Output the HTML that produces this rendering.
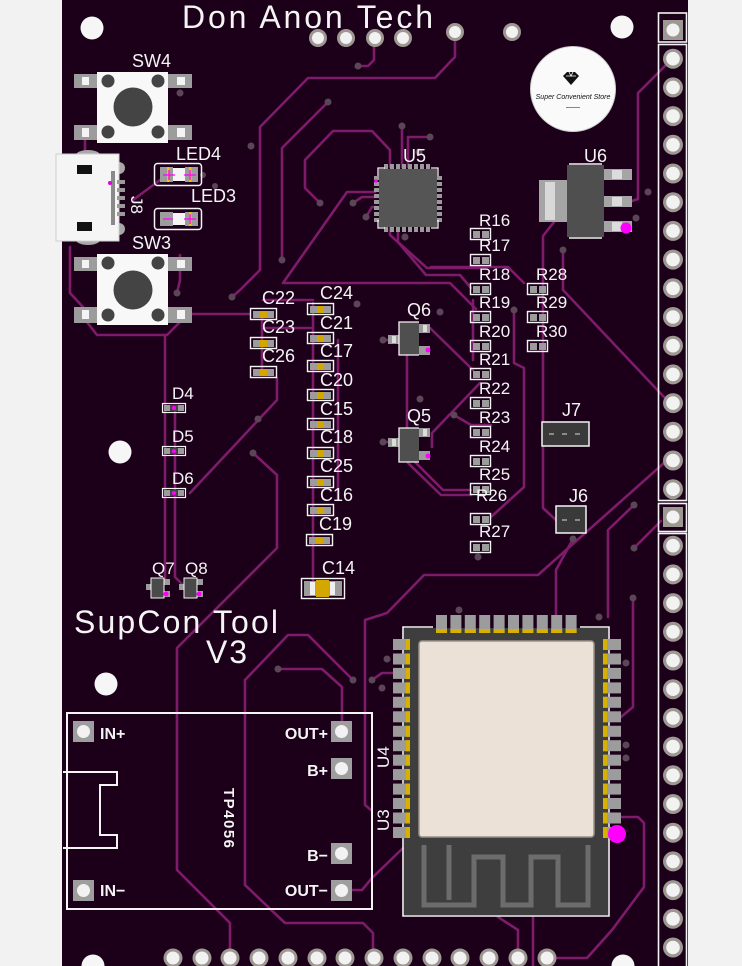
<!DOCTYPE html>
<html><head><meta charset="utf-8"><style>
html,body{margin:0;padding:0;background:#f2f2f2;}
svg{display:block;}
text{font-family:"Liberation Sans",sans-serif;fill:#f4f4f4;}
</style></head><body>
<svg width="742" height="966" viewBox="0 0 742 966" xmlns="http://www.w3.org/2000/svg">
<rect x="0" y="0" width="742" height="966" fill="#f2f2f2"/>
<rect x="62" y="0" width="626" height="966" fill="#1c0019"/>

<!-- traces -->
<g fill="none" stroke="#7e1b6b" stroke-width="2.6" stroke-linejoin="round" stroke-linecap="round">
<polyline points="452,60 435,78 308,78 260,127 260,270 240,290 232,297"/>
<polyline points="455,33 455,57 452,60"/>
<polyline points="328,102 282,148 282,260"/>
<polyline points="320,203 305,188 305,160 333,131 372,131 390,150 390,167"/>
<polyline points="374,38 374,60 368,66 358,66"/>
<polyline points="375,192 347,192 283,283 450,283 476,309"/>
<polyline points="390,228 390,235 427,268 480,268"/>
<polyline points="398,228 398,242 426,275 460,275 471,288"/>
<polyline points="431,267 508,267 524,283"/>
<polyline points="402,126 402,167"/>
<polyline points="430,137 408,137 408,167"/>
<polyline points="353,203 362,197 377,197"/>
<polyline points="366,217 372,207 377,207"/>
<polyline points="673,58 638,93 638,199 632,201"/>
<polyline points="554,222 543,236 543,508 556,520"/>
<polyline points="563,250 563,290 664,397"/>
<polyline points="664,463 538,575 424,575 387,613 365,620 365,805 371,810"/>
<polyline points="634,505 608,530 608,617"/>
<polyline points="573,539 556,570 556,615"/>
<polyline points="634,548 661,521"/>
<polyline points="621,817 638,817 644,823 644,887 612,930 587,958 553,958"/>
<polyline points="621,717 633,707 633,598"/>
<polyline points="352,890 362,890 372,878 403,848"/>
<polyline points="498,917 518,930 518,952"/>
<polyline points="533,917 533,966"/>
<polyline points="253,453 277,475 277,548 177,648 177,870 230,923 230,952"/>
<polyline points="245,680 288,635 308,635 353,680"/>
<polyline points="245,680 245,885 285,923 363,923 373,933 373,952"/>
<polyline points="278,669 322,669 342,687 342,723"/>
<polyline points="190,493 277,400 277,378"/>
<polyline points="83,317 97,335 167,335 182,320"/>
<polyline points="165,335 165,580"/>
<polyline points="175,412 175,577 183,585"/>
<polyline points="192,314 250,314"/>
<polyline points="263,300 313,300"/>
<polyline points="263,328 313,328"/>
<polyline points="262,314 262,372"/>
<polyline points="313,303 313,590"/>
<polyline points="338,340 338,500"/>
<polyline points="430,328 473,370"/>
<polyline points="432,447 432,433 480,383"/>
<polyline points="407,356 407,428"/>
<polyline points="408,463 441,495 471,495"/>
<polyline points="413,460 443,490 471,490"/>
<polyline points="454,415 471,425 491,425"/>
<polyline points="514,310 514,363 524,368 524,487 491,517"/>
<polyline points="473,300 473,360"/>
<polyline points="85,140 85,155"/>
<polyline points="133,200 160,180"/>
<polyline points="70,247 70,293 83,307"/>
<polyline points="372,680 382,673 393,673"/>
<polyline points="177,293 180,280 180,255"/>
<polyline points="383,340 388,340"/>
<polyline points="383,442 388,442"/>
</g>

<!-- vias -->
<g fill="#5a4656">
<circle cx="358" cy="66" r="3.5"/><circle cx="328" cy="102" r="3.5"/><circle cx="282" cy="260" r="3.5"/>
<circle cx="320" cy="203" r="3.5"/><circle cx="251" cy="146" r="3.5"/><circle cx="232" cy="297" r="3.5"/>
<circle cx="180" cy="93" r="3.5"/><circle cx="402" cy="126" r="3.5"/><circle cx="430" cy="137" r="3.5"/>
<circle cx="419" cy="152" r="3.5"/><circle cx="353" cy="203" r="3.5"/><circle cx="366" cy="217" r="3.5"/>
<circle cx="405" cy="237" r="3.5"/><circle cx="563" cy="250" r="3.5"/><circle cx="648" cy="192" r="3.5"/>
<circle cx="636" cy="218" r="3.5"/><circle cx="514" cy="310" r="3.5"/><circle cx="454" cy="415" r="3.5"/>
<circle cx="383" cy="340" r="3.5"/><circle cx="383" cy="442" r="3.5"/><circle cx="440" cy="312" r="3.5"/>
<circle cx="420" cy="399" r="3.5"/><circle cx="258" cy="419" r="3.5"/><circle cx="253" cy="453" r="3.5"/>
<circle cx="177" cy="293" r="3.5"/><circle cx="634" cy="505" r="3.5"/><circle cx="573" cy="539" r="3.5"/>
<circle cx="634" cy="548" r="3.5"/><circle cx="626" cy="663" r="3.5"/><circle cx="626" cy="745" r="3.5"/>
<circle cx="626" cy="758" r="3.5"/><circle cx="387" cy="659" r="3.5"/><circle cx="353" cy="680" r="3.5"/>
<circle cx="372" cy="680" r="3.5"/><circle cx="382" cy="688" r="3.5"/><circle cx="278" cy="669" r="3.5"/>
<circle cx="459" cy="610" r="3.5"/><circle cx="599" cy="617" r="3.5"/><circle cx="478" cy="557" r="3.5"/>
<circle cx="357" cy="304" r="3.5"/><circle cx="633" cy="598" r="3.5"/>
<circle cx="203" cy="175" r="3"/><circle cx="215" cy="186" r="3"/>
</g>

<!-- holes -->
<g fill="#f6f6f6">
<circle cx="92" cy="28" r="11.5"/><circle cx="622" cy="27" r="11.5"/><circle cx="120" cy="452" r="11.5"/>
<circle cx="106" cy="684" r="11.5"/><circle cx="93" cy="966" r="11.5"/><circle cx="623" cy="966" r="11.5"/>
</g>

<!-- logo -->
<circle cx="573" cy="89" r="42.5" fill="#fafafa" stroke="#cfcfcf" stroke-width="1"/>
<path d="M563 76 L567 72 L575 72 L579 76 L571 85 Z" fill="#111"/>
<path d="M566 76 L576 76 M569 72 L571 76 L573 72" stroke="#fff" stroke-width="0.8" fill="none"/>
<text x="573" y="99" font-size="7" text-anchor="middle" style="fill:#111;font-style:italic">Super Convenient Store</text>
<rect x="566" y="107" width="14" height="1" fill="#888"/>

<!-- title texts -->
<text x="182" y="28" font-size="32" textLength="251" lengthAdjust="spacing">Don Anon Tech</text>
<text x="74" y="633" font-size="32" textLength="204" lengthAdjust="spacing">SupCon Tool</text>
<text x="206" y="663" font-size="32" textLength="41" lengthAdjust="spacing">V3</text>

<!-- top pads -->
<g>
<g fill="#9e9893"><circle cx="318" cy="38" r="9"/><circle cx="346" cy="38" r="9"/><circle cx="375" cy="38" r="9"/><circle cx="403" cy="38" r="9"/><circle cx="455" cy="32" r="9"/><circle cx="512" cy="32" r="9"/></g>
<g fill="#f2f2f2"><circle cx="318" cy="38" r="6"/><circle cx="346" cy="38" r="6"/><circle cx="375" cy="38" r="6"/><circle cx="403" cy="38" r="6"/><circle cx="455" cy="32" r="6"/><circle cx="512" cy="32" r="6"/></g>
</g>

<!-- bottom pads -->
<g>
<g fill="#9e9893">
<circle cx="173" cy="958" r="9.5"/><circle cx="202" cy="958" r="9.5"/><circle cx="230" cy="958" r="9.5"/><circle cx="259" cy="958" r="9.5"/><circle cx="288" cy="958" r="9.5"/><circle cx="317" cy="958" r="9.5"/><circle cx="345" cy="958" r="9.5"/><circle cx="374" cy="958" r="9.5"/><circle cx="403" cy="958" r="9.5"/><circle cx="432" cy="958" r="9.5"/><circle cx="460" cy="958" r="9.5"/><circle cx="489" cy="958" r="9.5"/><circle cx="518" cy="958" r="9.5"/><circle cx="547" cy="958" r="9.5"/>
</g>
<g fill="#f2f2f2">
<circle cx="173" cy="958" r="6.5"/><circle cx="202" cy="958" r="6.5"/><circle cx="230" cy="958" r="6.5"/><circle cx="259" cy="958" r="6.5"/><circle cx="288" cy="958" r="6.5"/><circle cx="317" cy="958" r="6.5"/><circle cx="345" cy="958" r="6.5"/><circle cx="374" cy="958" r="6.5"/><circle cx="403" cy="958" r="6.5"/><circle cx="432" cy="958" r="6.5"/><circle cx="460" cy="958" r="6.5"/><circle cx="489" cy="958" r="6.5"/><circle cx="518" cy="958" r="6.5"/><circle cx="547" cy="958" r="6.5"/>
</g>
</g>

<!-- right headers -->
<g fill="none" stroke="#f4f4f4" stroke-width="1.6">
<rect x="658.5" y="13" width="28" height="29"/>
<rect x="658.5" y="44.5" width="28" height="456"/>
<rect x="658.5" y="503.5" width="28" height="28"/>
<rect x="658.5" y="533.5" width="28" height="440"/>
</g>
<rect x="663" y="20" width="20" height="20" fill="#9e9893"/><circle cx="673" cy="30" r="6.5" fill="#f2f2f2"/>
<rect x="663" y="507" width="20" height="20" fill="#9e9893"/><circle cx="673" cy="517" r="6.5" fill="#f2f2f2"/>
<g fill="#9e9893">
<circle cx="673" cy="58.7" r="10"/><circle cx="673" cy="87.4" r="10"/><circle cx="673" cy="116.1" r="10"/><circle cx="673" cy="144.8" r="10"/><circle cx="673" cy="173.5" r="10"/><circle cx="673" cy="202.2" r="10"/><circle cx="673" cy="230.9" r="10"/><circle cx="673" cy="259.6" r="10"/><circle cx="673" cy="288.3" r="10"/><circle cx="673" cy="317" r="10"/><circle cx="673" cy="345.7" r="10"/><circle cx="673" cy="374.4" r="10"/><circle cx="673" cy="403.1" r="10"/><circle cx="673" cy="431.8" r="10"/><circle cx="673" cy="460.5" r="10"/><circle cx="673" cy="489.2" r="10"/>
<circle cx="673" cy="545.7" r="10"/><circle cx="673" cy="574.4" r="10"/><circle cx="673" cy="603.1" r="10"/><circle cx="673" cy="631.8" r="10"/><circle cx="673" cy="660.5" r="10"/><circle cx="673" cy="689.2" r="10"/><circle cx="673" cy="717.9" r="10"/><circle cx="673" cy="746.6" r="10"/><circle cx="673" cy="775.3" r="10"/><circle cx="673" cy="804" r="10"/><circle cx="673" cy="832.7" r="10"/><circle cx="673" cy="861.4" r="10"/><circle cx="673" cy="890.1" r="10"/><circle cx="673" cy="918.8" r="10"/><circle cx="673" cy="947.5" r="10"/>
</g>
<g fill="#f2f2f2">
<circle cx="673" cy="58.7" r="6.8"/><circle cx="673" cy="87.4" r="6.8"/><circle cx="673" cy="116.1" r="6.8"/><circle cx="673" cy="144.8" r="6.8"/><circle cx="673" cy="173.5" r="6.8"/><circle cx="673" cy="202.2" r="6.8"/><circle cx="673" cy="230.9" r="6.8"/><circle cx="673" cy="259.6" r="6.8"/><circle cx="673" cy="288.3" r="6.8"/><circle cx="673" cy="317" r="6.8"/><circle cx="673" cy="345.7" r="6.8"/><circle cx="673" cy="374.4" r="6.8"/><circle cx="673" cy="403.1" r="6.8"/><circle cx="673" cy="431.8" r="6.8"/><circle cx="673" cy="460.5" r="6.8"/><circle cx="673" cy="489.2" r="6.8"/>
<circle cx="673" cy="545.7" r="6.8"/><circle cx="673" cy="574.4" r="6.8"/><circle cx="673" cy="603.1" r="6.8"/><circle cx="673" cy="631.8" r="6.8"/><circle cx="673" cy="660.5" r="6.8"/><circle cx="673" cy="689.2" r="6.8"/><circle cx="673" cy="717.9" r="6.8"/><circle cx="673" cy="746.6" r="6.8"/><circle cx="673" cy="775.3" r="6.8"/><circle cx="673" cy="804" r="6.8"/><circle cx="673" cy="832.7" r="6.8"/><circle cx="673" cy="861.4" r="6.8"/><circle cx="673" cy="890.1" r="6.8"/><circle cx="673" cy="918.8" r="6.8"/><circle cx="673" cy="947.5" r="6.8"/>
</g>

<!-- SW4 -->
<g>
<rect x="74" y="74" width="23" height="14" fill="#9c9c9c"/><rect x="82" y="77" width="7" height="8" fill="#f4f4f4"/>
<rect x="74" y="125" width="23" height="15" fill="#9c9c9c"/><rect x="82" y="128" width="7" height="9" fill="#f4f4f4"/>
<rect x="168" y="74" width="24" height="14" fill="#9c9c9c"/><rect x="177" y="77" width="8" height="8" fill="#f4f4f4"/>
<rect x="168" y="125" width="24" height="15" fill="#9c9c9c"/><rect x="177" y="128" width="8" height="9" fill="#f4f4f4"/>
<rect x="97" y="72" width="71" height="71" fill="#f8f8f8"/>
<g fill="#444"><circle cx="108" cy="81" r="6.5"/><circle cx="158" cy="81" r="6.5"/><circle cx="108" cy="132" r="6.5"/><circle cx="158" cy="132" r="6.5"/><circle cx="133" cy="107" r="19.5"/></g>
</g>
<text x="132" y="67" font-size="18">SW4</text>

<!-- SW3 -->
<g>
<rect x="74" y="257" width="23" height="14" fill="#9c9c9c"/><rect x="82" y="260" width="7" height="8" fill="#f4f4f4"/>
<rect x="74" y="307" width="23" height="16" fill="#9c9c9c"/><rect x="82" y="310" width="7" height="9" fill="#f4f4f4"/>
<rect x="168" y="257" width="24" height="14" fill="#9c9c9c"/><rect x="177" y="260" width="8" height="8" fill="#f4f4f4"/>
<rect x="168" y="307" width="24" height="16" fill="#9c9c9c"/><rect x="177" y="310" width="8" height="9" fill="#f4f4f4"/>
<rect x="97" y="254" width="71" height="71" fill="#f8f8f8"/>
<g fill="#444"><circle cx="108" cy="263" r="6.5"/><circle cx="158" cy="263" r="6.5"/><circle cx="108" cy="315" r="6.5"/><circle cx="158" cy="315" r="6.5"/><circle cx="133" cy="290" r="19.5"/></g>
</g>
<text x="132" y="249" font-size="18">SW3</text>

<!-- J8 micro USB -->
<g>
<ellipse cx="88" cy="155" rx="12" ry="5" fill="#a8a8a8"/>
<ellipse cx="88" cy="240" rx="12" ry="5" fill="#a8a8a8"/>
<circle cx="119" cy="168" r="6" fill="#a8a8a8"/>
<circle cx="119" cy="229" r="6" fill="#a8a8a8"/>
<rect x="56" y="154" width="63" height="87" fill="#f5f5f5" stroke="#cfcfcf" stroke-width="1"/>
<rect x="77" y="165" width="15" height="9" fill="#111"/>
<rect x="77" y="222" width="15" height="9" fill="#111"/>
<rect x="111" y="171" width="4" height="54" fill="#8a8a8a"/>
<g fill="#9a9a9a"><rect x="117" y="180" width="8" height="4"/><rect x="117" y="188" width="8" height="4"/><rect x="117" y="196" width="8" height="4"/><rect x="117" y="204" width="8" height="4"/><rect x="117" y="212" width="8" height="4"/></g>
<circle cx="110" cy="183" r="2" fill="#e000e0"/>
</g>
<text transform="translate(131,196) rotate(90)" font-size="17">J8</text>

<!-- LED4 / LED3 -->
<g>
<rect x="154.5" y="163.5" width="47" height="22" rx="3" fill="none" stroke="#f4f4f4" stroke-width="1.5"/>
<rect x="160" y="167" width="13" height="15" fill="#9c9c9c"/><rect x="185" y="167" width="13" height="15" fill="#9c9c9c"/>
<rect x="173" y="168" width="12" height="13" fill="#f4f4f4"/>
<rect x="167" y="167" width="2.5" height="15" fill="#e8c800"/><rect x="189" y="167" width="2.5" height="15" fill="#e8c800"/>
<path d="M163 175 H175 M169 170 V180 M184 175 H196 M190 170 V180" stroke="#ff00ff" stroke-width="1.3"/>
</g>
<text x="176" y="160" font-size="18">LED4</text>
<g>
<rect x="154.5" y="208.5" width="47" height="21" rx="3" fill="none" stroke="#f4f4f4" stroke-width="1.5"/>
<rect x="160" y="212" width="13" height="14" fill="#9c9c9c"/><rect x="185" y="212" width="13" height="14" fill="#9c9c9c"/>
<rect x="173" y="213" width="12" height="12" fill="#f4f4f4"/>
<rect x="189" y="212" width="2.5" height="14" fill="#e8c800"/>
<path d="M163 219 H173 M184 219 H196 M190 214 V224" stroke="#ff00ff" stroke-width="1.3"/>
</g>
<text x="191" y="202" font-size="18">LED3</text>

<!-- U5 QFN -->
<g>
<g fill="#9a9a9a">
<rect x="384" y="164" width="4" height="6"/><rect x="390" y="164" width="4" height="6"/><rect x="396" y="164" width="4" height="6"/><rect x="402" y="164" width="4" height="6"/><rect x="408" y="164" width="4" height="6"/><rect x="414" y="164" width="4" height="6"/><rect x="420" y="164" width="4" height="6"/><rect x="426" y="164" width="4" height="6"/>
<rect x="384" y="226" width="4" height="6"/><rect x="390" y="226" width="4" height="6"/><rect x="396" y="226" width="4" height="6"/><rect x="402" y="226" width="4" height="6"/><rect x="408" y="226" width="4" height="6"/><rect x="414" y="226" width="4" height="6"/><rect x="420" y="226" width="4" height="6"/><rect x="426" y="226" width="4" height="6"/>
<rect x="374" y="176" width="6" height="4"/><rect x="374" y="182" width="6" height="4"/><rect x="374" y="188" width="6" height="4"/><rect x="374" y="194" width="6" height="4"/><rect x="374" y="200" width="6" height="4"/><rect x="374" y="206" width="6" height="4"/><rect x="374" y="212" width="6" height="4"/><rect x="374" y="218" width="6" height="4"/>
<rect x="436" y="176" width="6" height="4"/><rect x="436" y="182" width="6" height="4"/><rect x="436" y="188" width="6" height="4"/><rect x="436" y="194" width="6" height="4"/><rect x="436" y="200" width="6" height="4"/><rect x="436" y="206" width="6" height="4"/><rect x="436" y="212" width="6" height="4"/><rect x="436" y="218" width="6" height="4"/>
</g>
<rect x="379" y="169" width="58" height="58" fill="#555"/>
<path d="M378 176 V168 H385 M431 168 H438 V176 M438 220 V228 H431 M385 228 H378 V220" stroke="#f4f4f4" stroke-width="1.3" fill="none"/>
<circle cx="376" cy="181" r="1.8" fill="#ff00ff"/>
</g>
<text x="403" y="162" font-size="18">U5</text>

<!-- U6 SOT-223 -->
<g>
<rect x="539" y="180" width="28" height="42" fill="#a5a5a5"/>
<rect x="545" y="182" width="10" height="38" fill="#d8d8d8"/>
<rect x="604" y="169" width="28" height="11" fill="#a5a5a5"/><rect x="612" y="170" width="10" height="9" fill="#dcdcdc"/>
<rect x="604" y="196" width="28" height="11" fill="#a5a5a5"/><rect x="612" y="197" width="10" height="9" fill="#dcdcdc"/>
<rect x="604" y="221" width="28" height="11" fill="#a5a5a5"/><rect x="612" y="222" width="10" height="9" fill="#dcdcdc"/>
<rect x="567" y="165" width="37" height="72" fill="#4f4f4f"/>
<path d="M569 164 H602 M569 238 H602" stroke="#f4f4f4" stroke-width="1.5"/>
<circle cx="626" cy="228" r="5.5" fill="#ff00ff"/>
</g>
<text x="584" y="162" font-size="18">U6</text>

<!-- resistors -->
<g fill="none" stroke="#f4f4f4" stroke-width="1.4">
<rect x="470.5" y="228.5" width="20" height="11"/><rect x="470.5" y="254.5" width="20" height="11"/><rect x="470.5" y="283.5" width="20" height="11"/><rect x="470.5" y="311.5" width="20" height="11"/><rect x="470.5" y="340.5" width="20" height="11"/><rect x="470.5" y="368.5" width="20" height="11"/><rect x="470.5" y="397.5" width="20" height="11"/><rect x="470.5" y="426.5" width="20" height="11"/><rect x="470.5" y="455.5" width="20" height="11"/><rect x="470.5" y="483.5" width="20" height="11"/><rect x="470.5" y="513.5" width="20" height="11"/><rect x="470.5" y="541.5" width="20" height="11"/>
<rect x="527.5" y="283.5" width="20" height="11"/><rect x="527.5" y="311.5" width="20" height="11"/><rect x="527.5" y="340.5" width="20" height="11"/>
</g>
<g fill="#9c9c9c">
<rect x="473" y="231" width="7" height="7"/><rect x="482" y="231" width="7" height="7"/>
<rect x="473" y="257" width="7" height="7"/><rect x="482" y="257" width="7" height="7"/>
<rect x="473" y="286" width="7" height="7"/><rect x="482" y="286" width="7" height="7"/>
<rect x="473" y="314" width="7" height="7"/><rect x="482" y="314" width="7" height="7"/>
<rect x="473" y="343" width="7" height="7"/><rect x="482" y="343" width="7" height="7"/>
<rect x="473" y="371" width="7" height="7"/><rect x="482" y="371" width="7" height="7"/>
<rect x="473" y="400" width="7" height="7"/><rect x="482" y="400" width="7" height="7"/>
<rect x="473" y="429" width="7" height="7"/><rect x="482" y="429" width="7" height="7"/>
<rect x="473" y="458" width="7" height="7"/><rect x="482" y="458" width="7" height="7"/>
<rect x="473" y="486" width="7" height="7"/><rect x="482" y="486" width="7" height="7"/>
<rect x="473" y="516" width="7" height="7"/><rect x="482" y="516" width="7" height="7"/>
<rect x="473" y="544" width="7" height="7"/><rect x="482" y="544" width="7" height="7"/>
<rect x="530" y="286" width="7" height="7"/><rect x="539" y="286" width="7" height="7"/>
<rect x="530" y="314" width="7" height="7"/><rect x="539" y="314" width="7" height="7"/>
<rect x="530" y="343" width="7" height="7"/><rect x="539" y="343" width="7" height="7"/>
</g>
<g font-size="17">
<text x="479" y="226">R16</text><text x="479" y="251">R17</text><text x="479" y="280">R18</text><text x="479" y="308">R19</text><text x="479" y="337">R20</text><text x="479" y="365">R21</text><text x="479" y="394">R22</text><text x="479" y="423">R23</text><text x="479" y="452">R24</text><text x="479" y="480">R25</text><text x="476" y="501">R26</text><text x="479" y="537">R27</text>
<text x="536" y="280">R28</text><text x="536" y="308">R29</text><text x="536" y="337">R30</text>
</g>

<!-- capacitors -->
<g fill="none" stroke="#f4f4f4" stroke-width="1.4">
<rect x="307.5" y="303.5" width="26" height="11"/><rect x="307.5" y="332.5" width="26" height="11"/><rect x="307.5" y="360.5" width="26" height="11"/><rect x="307.5" y="389.5" width="26" height="11"/><rect x="307.5" y="418.5" width="26" height="11"/><rect x="307.5" y="447.5" width="26" height="11"/><rect x="307.5" y="476.5" width="26" height="11"/><rect x="307.5" y="504.5" width="26" height="11"/><rect x="306.5" y="534.5" width="26" height="11"/>
<rect x="250.5" y="308.5" width="26" height="11"/><rect x="250.5" y="337.5" width="26" height="11"/><rect x="250.5" y="366.5" width="26" height="11"/>
<rect x="301.5" y="578.5" width="43" height="20"/>
</g>
<g fill="#9c9c9c">
<rect x="310" y="306" width="21" height="7"/><rect x="310" y="335" width="21" height="7"/><rect x="310" y="363" width="21" height="7"/><rect x="310" y="392" width="21" height="7"/><rect x="310" y="421" width="21" height="7"/><rect x="310" y="450" width="21" height="7"/><rect x="310" y="479" width="21" height="7"/><rect x="310" y="507" width="21" height="7"/><rect x="309" y="537" width="21" height="7"/>
<rect x="253" y="311" width="21" height="7"/><rect x="253" y="340" width="21" height="7"/><rect x="253" y="369" width="21" height="7"/>
<rect x="304" y="581" width="38" height="15"/>
</g>
<g fill="#d4a600">
<rect x="317" y="306" width="7" height="7"/><rect x="317" y="335" width="7" height="7"/><rect x="317" y="363" width="7" height="7"/><rect x="317" y="392" width="7" height="7"/><rect x="317" y="421" width="7" height="7"/><rect x="317" y="450" width="7" height="7"/><rect x="317" y="479" width="7" height="7"/><rect x="317" y="507" width="7" height="7"/><rect x="316" y="537" width="7" height="7"/>
<rect x="260" y="311" width="7" height="7"/><rect x="260" y="340" width="7" height="7"/><rect x="260" y="369" width="7" height="7"/>
<rect x="316" y="580" width="13" height="17"/>
</g>
<rect x="310" y="582" width="5" height="13" fill="#f0f0f0"/><rect x="330" y="582" width="5" height="13" fill="#f0f0f0"/>
<g font-size="18">
<text x="320" y="299">C24</text><text x="320" y="329">C21</text><text x="320" y="357">C17</text><text x="320" y="386">C20</text><text x="320" y="415">C15</text><text x="320" y="443">C18</text><text x="320" y="472">C25</text><text x="320" y="501">C16</text><text x="319" y="530">C19</text>
<text x="262" y="304">C22</text><text x="262" y="333">C23</text><text x="262" y="362">C26</text>
<text x="322" y="574">C14</text>
</g>

<!-- diodes -->
<g>
<g fill="none" stroke="#f4f4f4" stroke-width="1.2">
<rect x="162.5" y="403.5" width="23" height="9"/><rect x="162.5" y="446.5" width="23" height="9"/><rect x="162.5" y="488.5" width="23" height="9"/>
</g>
<g fill="#9c9c9c"><rect x="164" y="405" width="6" height="6"/><rect x="178" y="405" width="6" height="6"/><rect x="164" y="448" width="6" height="6"/><rect x="178" y="448" width="6" height="6"/><rect x="164" y="490" width="6" height="6"/><rect x="178" y="490" width="6" height="6"/></g>
<g fill="#444"><rect x="170" y="405" width="8" height="6"/><rect x="170" y="448" width="8" height="6"/><rect x="170" y="490" width="8" height="6"/></g>
<g fill="#ff00ff"><circle cx="174" cy="408" r="2"/><circle cx="174" cy="451" r="2"/><circle cx="174" cy="493" r="2"/></g>
</g>
<g font-size="17"><text x="172" y="399">D4</text><text x="172" y="442">D5</text><text x="172" y="484">D6</text></g>

<!-- Q7 Q8 -->
<g>
<rect x="146" y="584" width="6" height="6" fill="#9c9c9c"/><rect x="164" y="579" width="6" height="6" fill="#9c9c9c"/><rect x="164" y="591" width="6" height="6" fill="#9c9c9c"/>
<rect x="151" y="578" width="13" height="20" fill="#4a4a4a" stroke="#f4f4f4" stroke-width="1"/>
<circle cx="166" cy="594" r="2.5" fill="#ff00ff"/>
<rect x="179" y="584" width="6" height="6" fill="#9c9c9c"/><rect x="197" y="579" width="6" height="6" fill="#9c9c9c"/><rect x="197" y="591" width="6" height="6" fill="#9c9c9c"/>
<rect x="184" y="578" width="13" height="20" fill="#4a4a4a" stroke="#f4f4f4" stroke-width="1"/>
<circle cx="199" cy="594" r="2.5" fill="#ff00ff"/>
</g>
<g font-size="17"><text x="152" y="574">Q7</text><text x="185" y="574">Q8</text></g>

<!-- Q6 Q5 -->
<g>
<rect x="388" y="335" width="12" height="9" fill="#9c9c9c"/><rect x="392" y="336" width="4" height="7" fill="#ddd"/>
<rect x="418" y="324" width="12" height="9" fill="#9c9c9c"/><rect x="423" y="325" width="4" height="7" fill="#ddd"/>
<rect x="418" y="346" width="12" height="9" fill="#9c9c9c"/>
<rect x="399" y="322" width="20" height="33" fill="#4f4f4f"/>
<path d="M419 322 H399 V355 H419" stroke="#f4f4f4" stroke-width="1.3" fill="none"/>
<circle cx="428" cy="350" r="2.5" fill="#ff00ff"/>
<rect x="388" y="438" width="12" height="9" fill="#9c9c9c"/><rect x="392" y="439" width="4" height="7" fill="#ddd"/>
<rect x="418" y="428" width="12" height="9" fill="#9c9c9c"/><rect x="423" y="429" width="4" height="7" fill="#ddd"/>
<rect x="418" y="451" width="12" height="9" fill="#9c9c9c"/>
<rect x="399" y="428" width="20" height="34" fill="#4f4f4f"/>
<path d="M419 428 H399 V462 H419" stroke="#f4f4f4" stroke-width="1.3" fill="none"/>
<circle cx="428" cy="456" r="2.5" fill="#ff00ff"/>
</g>
<g font-size="18"><text x="407" y="316">Q6</text><text x="407" y="422">Q5</text></g>

<!-- J7 J6 -->
<rect x="542" y="422" width="47" height="24" fill="#3a3a3a" stroke="#f4f4f4" stroke-width="1.5"/>
<path d="M549 434 H554 M562 434 H567 M575 434 H580" stroke="#bbb" stroke-width="1.2"/>
<rect x="556" y="506" width="30" height="27" fill="#3a3a3a" stroke="#f4f4f4" stroke-width="1.5"/>
<path d="M562 520 H567 M575 520 H580" stroke="#bbb" stroke-width="1.2"/>
<g font-size="18"><text x="562" y="416">J7</text><text x="569" y="502">J6</text></g>

<!-- ESP32 module -->
<g>
<path d="M433 627 H403 V916 H609 V627 H580" fill="none" stroke="#f4f4f4" stroke-width="1.6"/>
<rect x="404" y="628" width="204" height="287" fill="#3e3e3e"/>
<rect x="419" y="641" width="175" height="196" rx="3" fill="#ebe1d6" stroke="#9a918a" stroke-width="1.5"/>
<path d="M424 845 V905 H474 V857 H503 V905 H531 V857 H558 V905 H588 V845 M449 845 V900" fill="none" stroke="#6c6c6c" stroke-width="5"/>
<g fill="#9c9c9c">
<rect x="436" y="615" width="11" height="18"/><rect x="450.4" y="615" width="11" height="18"/><rect x="464.8" y="615" width="11" height="18"/><rect x="479.2" y="615" width="11" height="18"/><rect x="493.6" y="615" width="11" height="18"/><rect x="508" y="615" width="11" height="18"/><rect x="522.4" y="615" width="11" height="18"/><rect x="536.8" y="615" width="11" height="18"/><rect x="551.2" y="615" width="11" height="18"/><rect x="565.6" y="615" width="11" height="18"/>
</g>
<g fill="#d8b000">
<rect x="436" y="629" width="11" height="4"/><rect x="450.4" y="629" width="11" height="4"/><rect x="464.8" y="629" width="11" height="4"/><rect x="479.2" y="629" width="11" height="4"/><rect x="493.6" y="629" width="11" height="4"/><rect x="508" y="629" width="11" height="4"/><rect x="522.4" y="629" width="11" height="4"/><rect x="536.8" y="629" width="11" height="4"/><rect x="551.2" y="629" width="11" height="4"/><rect x="565.6" y="629" width="11" height="4"/>
</g>
<g fill="#9c9c9c">
<rect x="393" y="639" width="17" height="11"/><rect x="393" y="653.5" width="17" height="11"/><rect x="393" y="667.9" width="17" height="11"/><rect x="393" y="682.4" width="17" height="11"/><rect x="393" y="696.8" width="17" height="11"/><rect x="393" y="711.3" width="17" height="11"/><rect x="393" y="725.8" width="17" height="11"/><rect x="393" y="740.2" width="17" height="11"/><rect x="393" y="754.7" width="17" height="11"/><rect x="393" y="769.1" width="17" height="11"/><rect x="393" y="783.6" width="17" height="11"/><rect x="393" y="798" width="17" height="11"/><rect x="393" y="812.5" width="17" height="11"/><rect x="393" y="827" width="17" height="11"/>
<rect x="603" y="639" width="18" height="11"/><rect x="603" y="653.5" width="18" height="11"/><rect x="603" y="667.9" width="18" height="11"/><rect x="603" y="682.4" width="18" height="11"/><rect x="603" y="696.8" width="18" height="11"/><rect x="603" y="711.3" width="18" height="11"/><rect x="603" y="725.8" width="18" height="11"/><rect x="603" y="740.2" width="18" height="11"/><rect x="603" y="754.7" width="18" height="11"/><rect x="603" y="769.1" width="18" height="11"/><rect x="603" y="783.6" width="18" height="11"/><rect x="603" y="798" width="18" height="11"/><rect x="603" y="812.5" width="18" height="11"/><rect x="603" y="827" width="18" height="11"/>
</g>
<g fill="#d8b000">
<rect x="406" y="639" width="4" height="11"/><rect x="406" y="653.5" width="4" height="11"/><rect x="406" y="667.9" width="4" height="11"/><rect x="406" y="682.4" width="4" height="11"/><rect x="406" y="696.8" width="4" height="11"/><rect x="406" y="711.3" width="4" height="11"/><rect x="406" y="725.8" width="4" height="11"/><rect x="406" y="740.2" width="4" height="11"/><rect x="406" y="754.7" width="4" height="11"/><rect x="406" y="769.1" width="4" height="11"/><rect x="406" y="783.6" width="4" height="11"/><rect x="406" y="798" width="4" height="11"/><rect x="406" y="812.5" width="4" height="11"/><rect x="406" y="827" width="4" height="11"/>
<rect x="603" y="639" width="4" height="11"/><rect x="603" y="653.5" width="4" height="11"/><rect x="603" y="667.9" width="4" height="11"/><rect x="603" y="682.4" width="4" height="11"/><rect x="603" y="696.8" width="4" height="11"/><rect x="603" y="711.3" width="4" height="11"/><rect x="603" y="725.8" width="4" height="11"/><rect x="603" y="740.2" width="4" height="11"/><rect x="603" y="754.7" width="4" height="11"/><rect x="603" y="769.1" width="4" height="11"/><rect x="603" y="783.6" width="4" height="11"/><rect x="603" y="798" width="4" height="11"/><rect x="603" y="812.5" width="4" height="11"/><rect x="603" y="827" width="4" height="11"/>
</g>
<circle cx="617" cy="834" r="9" fill="#ff00ff"/>
</g>
<text transform="translate(389,768) rotate(-90)" font-size="17">U4</text>
<text transform="translate(389,831) rotate(-90)" font-size="17">U3</text>

<!-- TP4056 -->
<g fill="none" stroke="#f4f4f4" stroke-width="2">
<rect x="67" y="713" width="305" height="196"/>
<polyline points="63,772 117,772 117,785 100,785 100,835 117,835 117,848 63,848"/>
</g>
<g fill="#9e9e9e">
<rect x="73" y="721" width="21" height="21"/><rect x="73" y="880" width="21" height="21"/>
<rect x="331" y="721" width="21" height="21"/><rect x="331" y="758" width="21" height="21"/><rect x="331" y="843" width="21" height="21"/><rect x="331" y="880" width="21" height="21"/>
</g>
<g fill="#f2f2f2">
<circle cx="83.5" cy="731.5" r="6.5"/><circle cx="83.5" cy="890.5" r="6.5"/>
<circle cx="341.5" cy="731.5" r="6.5"/><circle cx="341.5" cy="768.5" r="6.5"/><circle cx="341.5" cy="853.5" r="6.5"/><circle cx="341.5" cy="890.5" r="6.5"/>
</g>
<g font-size="16" font-weight="bold">
<text x="100" y="739">IN+</text>
<text x="100" y="896">IN−</text>
<text x="328" y="739" text-anchor="end">OUT+</text>
<text x="328" y="776" text-anchor="end">B+</text>
<text x="328" y="861" text-anchor="end">B−</text>
<text x="328" y="896" text-anchor="end">OUT−</text>
</g>
<text transform="translate(224,788) rotate(90)" font-size="15" font-weight="bold" textLength="60" lengthAdjust="spacing">TP4056</text>

</svg>
</body></html>
